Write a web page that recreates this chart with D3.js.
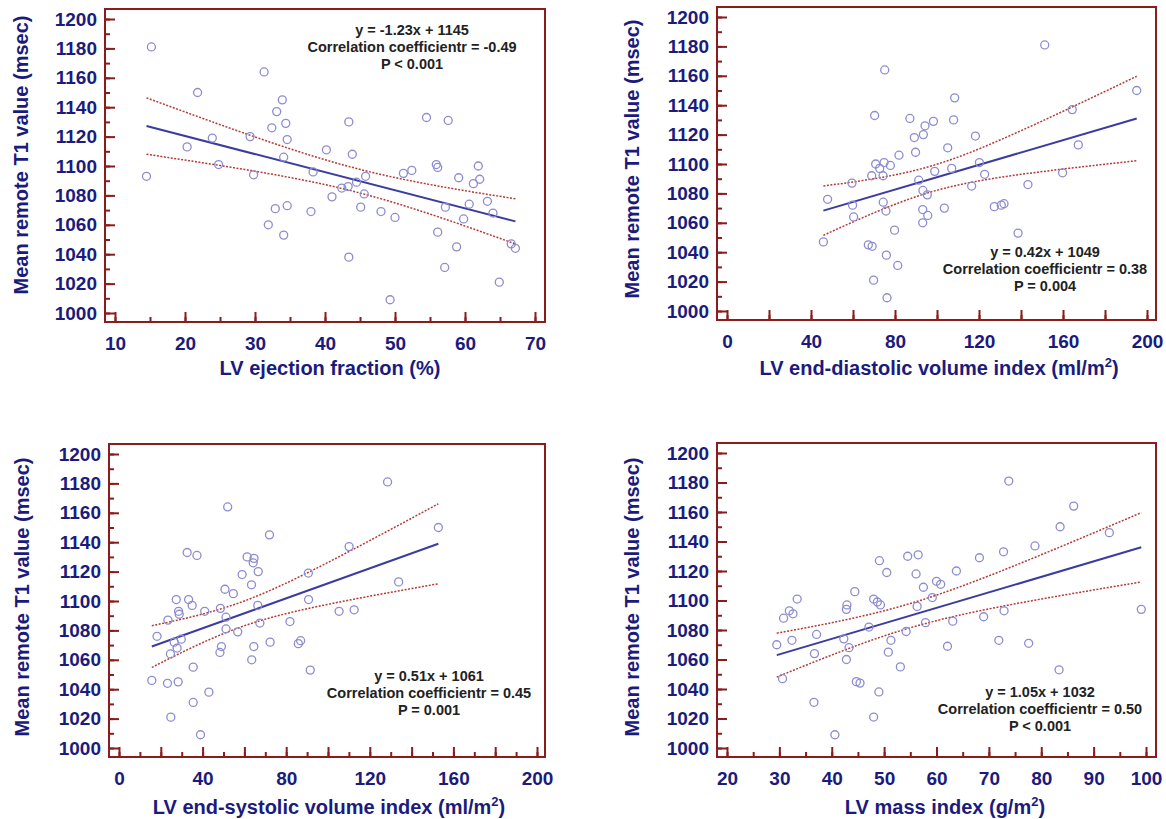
<!doctype html>
<html lang="en">
<head>
<meta charset="utf-8">
<script src="https://cdn.jsdelivr.net/npm/d3@7"></script>
<style>
  body { margin: 0; background: #fff; }
  svg { font-family: Arial, "Liberation Sans", sans-serif; }
  .frame { fill: none; stroke: #8b1c1c; stroke-width: 2px; }
  .axis path.domain { display: none; }
  .axis .tick line { stroke: #8b1c1c; stroke-width: 2px; }
  .axis .tick text { fill: #1b1b7d; font-size: 19px; font-weight: bold; }
  .pt { fill: none; stroke: #8c8cd0; stroke-width: 1.3px; }
  .fit { fill: none; stroke: #3c3ca0; stroke-width: 2px; }
  .band { fill: none; stroke: #b53a36; stroke-width: 1.5px; stroke-dasharray: 2,1.5; }
  .title { fill: #1b1b7d; font-size: 20px; font-weight: bold; }
  .note { fill: #222; font-size: 14.5px; font-weight: bold; }
</style>
</head>
<body>
<svg width="1166" height="819"></svg>
<script>
// ---- data ----
const efX = [15.2,14.5,20.3,21.8,23.9,24.8,29.3,29.8,31.3,32.4,33.1,33.9,34.4,34.6,34.1,32.9,34.6,31.9,34.1,38.0,38.3,40.2,41.0,42.4,43.3,43.4,43.9,43.4,44.5,45.8,45.6,45.1,48.0,50.0,49.3,51.2,52.4,54.5,55.9,56.1,57.6,57.2,56.1,57.1,58.8,59.1,59.8,60.6,61.2,61.9,62.1,63.2,64.0,64.9,66.6,67.2];
const efY = [1181,1093,1113,1150,1119,1101,1120,1094,1164,1126,1137,1145,1129,1118,1106,1071,1073,1060,1053,1069,1096,1111,1079,1085,1086,1130,1108,1038,1089,1093,1081,1072,1069,1065,1009,1095,1097,1133,1101,1099,1131,1072,1055,1031,1045,1092,1064,1074,1088,1100,1091,1076,1068,1021,1047,1044];

const edvX = [45.9,47.9,59.5,59.8,60.3,67.3,69.1,69.8,70.3,68.9,70.8,72.7,74.8,74.3,77.8,75.1,74.4,75.7,75.9,76.2,79.8,81.3,81.9,87.1,89.2,89.8,91.3,93.3,93.5,94.3,95.4,93.2,95.6,93.2,98.3,98.9,103.5,105.1,107.0,107.9,108.4,116.5,118.3,120.2,122.7,127.3,130.6,131.9,138.6,143.3,151.3,159.8,164.4,167.3,195.1];
const edvY = [1047,1076,1087,1072,1064,1045,1044,1021,1133,1092,1100,1097,1101,1092,1099,1164,1074,1068,1038,1009,1055,1031,1106,1131,1118,1108,1089,1082,1120,1126,1079,1069,1065,1060,1129,1095,1070,1111,1097,1130,1145,1085,1119,1101,1093,1071,1072,1073,1053,1086,1181,1094,1137,1113,1150];

const esvX = [15.7,18.2,23.4,23.2,24.8,24.6,26.4,27.8,29.8,27.4,28.5,28.8,28.3,32.6,33.3,35.0,35.5,35.5,37.3,39.0,41.0,43.0,48.5,49.0,48.3,50.7,51.2,51.2,52.0,54.7,56.8,58.9,61.3,63.4,64.2,64.6,66.6,64.5,63.5,66.4,67.4,72.0,72.3,81.8,85.8,86.9,90.6,90.7,91.5,105.3,112.5,110.1,128.5,133.8,152.8];
const esvY = [1046,1076,1087,1044,1021,1064,1072,1068,1074,1101,1093,1091,1045,1133,1101,1097,1055,1031,1131,1009,1093,1038,1095,1069,1065,1108,1089,1081,1164,1105,1079,1118,1130,1111,1126,1129,1120,1069,1060,1097,1085,1145,1072,1086,1071,1073,1119,1101,1053,1093,1094,1137,1181,1113,1150];

const massX = [29.5,30.6,30.8,31.9,32.6,32.4,33.4,36.6,36.7,37.1,40.6,42.3,42.8,42.9,42.8,43.3,44.4,44.7,45.4,47.1,48.0,48.0,48.7,49.3,49.0,49.1,50.5,50.8,51.3,53.1,54.2,54.5,56.5,56.1,56.3,57.5,57.9,59.2,60.0,60.8,62.1,63.1,63.8,68.2,69.0,71.9,72.8,72.9,73.8,77.6,78.8,83.4,83.6,86.2,93.0,99.1];
const massY = [1070,1047,1088,1093,1091,1073,1101,1031,1064,1077,1009,1074,1060,1097,1094,1068,1106,1045,1044,1082,1021,1101,1099,1097,1038,1127,1119,1065,1073,1055,1079,1130,1131,1118,1096,1109,1085,1102,1113,1111,1069,1086,1120,1129,1089,1073,1133,1093,1181,1071,1137,1053,1150,1164,1146,1094];

// regression equations printed on the figure
const slopes = [-1.23, 0.42, 0.51, 1.05];
const intercepts = [1145, 1049, 1061, 1032];

const notes = [
  ["y = -1.23x + 1145", "Correlation coefficientr = -0.49", "P < 0.001"],
  ["y = 0.42x + 1049", "Correlation coefficientr = 0.38", "P = 0.004"],
  ["y = 0.51x + 1061", "Correlation coefficientr = 0.45", "P = 0.001"],
  ["y = 1.05x + 1032", "Correlation coefficientr = 0.50", "P < 0.001"]
];

const xTitles = [
  ["LV ejection fraction (%)"],
  ["LV end-diastolic volume index (ml/m", "2", ")"],
  ["LV end-systolic volume index (ml/m", "2", ")"],
  ["LV mass index (g/m", "2", ")"]
];
const yTitle = "Mean remote T1 value (msec)";

// tick labels
const yTicks = [1000,1020,1040,1060,1080,1100,1120,1140,1160,1180,1200];
const efTicks = [10,20,30,40,50,60,70];
const edvTicks = [0,40,80,120,160,200];
const esvTicks = [0,40,80,120,160,200];
const massTicks = [20,30,40,50,60,70,80,90,100];

// ---- layout ----
const panels = [
  {xs: efX,   ys: efY,   labels: efTicks,   major: 10, minor: 5,  left: 105, top: 9,   w: 440, h: 313, r: 430,
   noteX: 307, noteY: 38,  titleX: 330, titleY: 375, yTitleX: 20.5, yTitleY: 155},
  {xs: edvX,  ys: edvY,  labels: edvTicks,  major: 20, minor: 20, left: 717, top: 7,   w: 439, h: 313, r: 430,
   noteX: 328, noteY: 262, titleX: 939, titleY: 375, yTitleX: 632, yTitleY: 159},
  {xs: esvX,  ys: esvY,  labels: esvTicks,  major: 20, minor: 10, left: 109, top: 444, w: 436, h: 313, r: 428,
   noteX: 320, noteY: 249, titleX: 329, titleY: 814, yTitleX: 22, yTitleY: 597},
  {xs: massX, ys: massY, labels: massTicks, major: 10, minor: 5,  left: 717, top: 443, w: 439, h: 314, r: 429,
   noteX: 323, noteY: 266, titleX: 945, titleY: 814, yTitleX: 632, yTitleY: 597}
];

const svg = d3.select("svg");

panels.forEach((p, i) => {
  const lo = p.labels[0], hi = p.labels[p.labels.length - 1];
  const x = d3.scaleLinear().domain([lo, hi]).range([10, p.r]);
  const y = d3.scaleLinear().domain([1000, 1200]).range([p.h - 9, 10]);
  const g = svg.append("g").attr("transform", `translate(${p.left},${p.top})`);

  // minor ticks
  g.append("g").attr("class", "axis").attr("transform", `translate(0,${p.h})`)
    .call(d3.axisBottom(x).tickValues(d3.range(lo, hi + 0.001, p.minor)).tickSize(-5).tickFormat(""));
  g.append("g").attr("class", "axis")
    .call(d3.axisLeft(y).tickValues(d3.range(1000, 1201, 10)).tickSize(-5).tickFormat(""));

  // major ticks + labels
  g.append("g").attr("class", "axis").attr("transform", `translate(0,${p.h})`)
    .call(d3.axisBottom(x).tickValues(d3.range(lo, hi + 0.001, p.major)).tickSize(-10).tickPadding(15)
      .tickFormat(d => p.labels.includes(d) ? String(d) : ""));
  g.append("g").attr("class", "axis")
    .call(d3.axisLeft(y).tickValues(yTicks).tickSize(-10).tickPadding(8).tickFormat(d => String(d)));

  g.append("rect").attr("class", "frame").attr("width", p.w).attr("height", p.h);

  // confidence band for the regression line, from the scatter
  const a = slopes[i], b = intercepts[i];
  const n = p.xs.length;
  const xm = d3.mean(p.xs);
  const sxx = d3.sum(p.xs, v => (v - xm) * (v - xm));
  const sse = d3.sum(p.xs, (v, k) => Math.pow(p.ys[k] - (a * v + b), 2));
  const s = Math.sqrt(sse / (n - 2));
  const tq = 2.005;
  const [x0, x1] = d3.extent(p.xs);
  const grid = d3.range(0, 61).map(k => x0 + (x1 - x0) * k / 60);
  const half = v => tq * s * Math.sqrt(1 / n + (v - xm) * (v - xm) / sxx);

  const line = d3.line().x(d => x(d[0])).y(d => y(d[1]));
  g.append("path").attr("class", "band").attr("d", line(grid.map(v => [v, a * v + b + half(v)])));
  g.append("path").attr("class", "band").attr("d", line(grid.map(v => [v, a * v + b - half(v)])));
  g.append("path").attr("class", "fit").attr("d", line([[x0, a * x0 + b], [x1, a * x1 + b]]));

  g.selectAll("circle.pt").data(p.xs.map((v, k) => [v, p.ys[k]])).enter()
    .append("circle").attr("class", "pt")
    .attr("cx", d => x(d[0])).attr("cy", d => y(d[1])).attr("r", 4);

  // annotation
  g.append("text").attr("class", "note").attr("text-anchor", "middle")
    .selectAll("tspan").data(notes[i]).enter().append("tspan")
    .attr("x", p.noteX).attr("y", (d, k) => p.noteY + 5 + (k - 1) * 16.8).text(d => d);

  // axis titles
  const xt = svg.append("text").attr("class", "title").attr("text-anchor", "middle")
    .attr("x", p.titleX).attr("y", p.titleY);
  xTitles[i].forEach((t, k) => {
    const ts = xt.append("tspan").text(t);
    if (k === 1) ts.attr("font-size", "13px").attr("dy", -8);
    if (k === 2) ts.attr("dy", 8);
  });

  svg.append("text").attr("class", "title").attr("text-anchor", "middle")
    .attr("transform", `translate(${p.yTitleX},${p.yTitleY}) rotate(-90)`)
    .attr("dy", "0.35em").text(yTitle);
});
</script>
</body>
</html>
